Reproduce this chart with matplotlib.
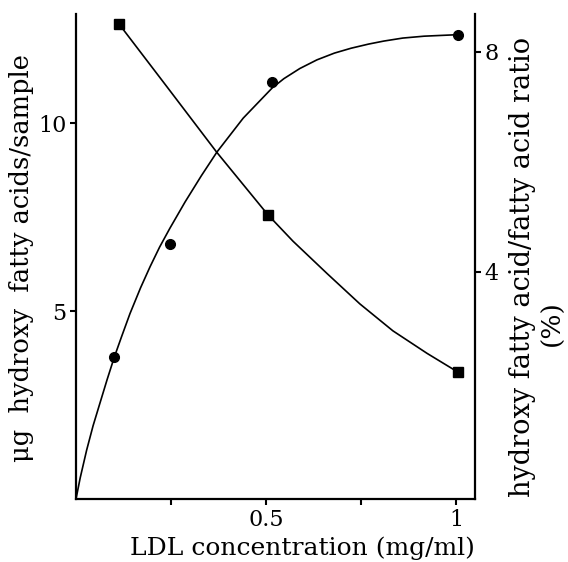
import numpy as np
import matplotlib
matplotlib.use("Agg")
import matplotlib.pyplot as plt

plt.rcParams['font.family'] = ['DejaVu Serif']

# measured points (LDL conc in mg/ml)
conc_hfa = [0.101, 0.247, 0.516, 1.005]
hfa_ug = [3.78, 6.78, 11.09, 12.34]

conc_ratio = [0.113, 0.505, 1.005]
ratio_pct = [8.51, 5.04, 2.18]

# hand-drawn fit lines
fit_hfa_x = [0, 0.011, 0.028, 0.045, 0.063, 0.082, 0.101, 0.12, 0.142, 0.17, 0.195,
             0.22, 0.247, 0.287, 0.33, 0.371, 0.44, 0.516, 0.547, 0.589, 0.634,
             0.68, 0.724, 0.77, 0.81, 0.86, 0.916, 0.96, 1.005]
fit_hfa_y = [0, 0.56, 1.30, 1.95, 2.55, 3.18, 3.78, 4.32, 4.93, 5.62, 6.18,
             6.7, 7.2, 7.9, 8.6, 9.23, 10.13, 10.93, 11.18, 11.45, 11.68,
             11.86, 11.99, 12.1, 12.18, 12.26, 12.31, 12.33, 12.35]

fit_ratio_x = [0.113, 0.239, 0.370, 0.505, 0.571, 0.661, 0.747, 0.834, 0.924, 1.005]
fit_ratio_y = [8.51, 7.37, 6.18, 5.04, 4.56, 3.97, 3.42, 2.93, 2.52, 2.18]

fig = plt.figure(figsize=(5.68, 5.62), dpi=100)
ax = fig.add_axes([76/568, 1 - 499/562, 399/568, 485/562])
ax2 = ax.twinx()

ax.plot(fit_hfa_x, fit_hfa_y, color='black', lw=1.2)
ax.plot(conc_hfa, hfa_ug, 'o', color='black', ms=7, clip_on=False)
ax2.plot(fit_ratio_x, fit_ratio_y, color='black', lw=1.2)
ax2.plot(conc_ratio, ratio_pct, 's', color='black', ms=6.5, clip_on=False)

ax.set_xlim(0, 1.05)
ax.set_ylim(0, 12.9)
ax2.set_ylim(-0.127, 8.69)

ax.set_xticks([0.25, 0.5, 0.75, 1.0])
ax.set_xticklabels(['', '0.5', '', '1'])
ax.set_yticks([5, 10])
ax2.set_yticks([4, 8])

for a in (ax, ax2):
    a.spines['top'].set_visible(False)
    for s in a.spines.values():
        s.set_linewidth(1.6)
    a.tick_params(direction='out', length=4, width=1.5, labelsize=16, pad=3)
ax.spines['right'].set_visible(False)
ax2.spines['left'].set_visible(False)
ax2.spines['bottom'].set_visible(False)

fig.text(302/568, 1 - 548/562, 'LDL concentration (mg/ml)', ha='center', va='center', fontsize=18)
fig.text(22/568, 1 - 258/562, 'μg  hydroxy  fatty acids/sample', rotation=90,
         ha='center', va='center', fontsize=18.5)
fig.text(523/568, 1 - 267/562, 'hydroxy fatty acid/fatty acid ratio', rotation=90,
         ha='center', va='center', fontsize=19.5)
fig.text(552/568, 1 - 323/562, '(%)', rotation=90, ha='center', va='center', fontsize=19)

fig.savefig('out.png', dpi=100)
